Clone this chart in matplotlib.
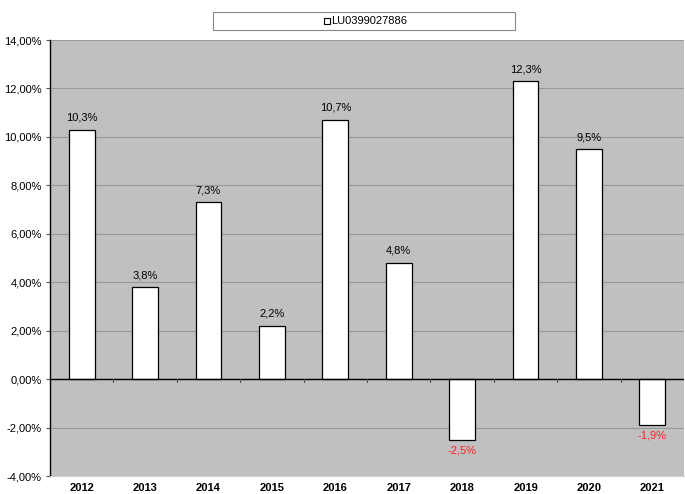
import matplotlib
matplotlib.use("Agg")
import matplotlib.pyplot as plt
from matplotlib.patches import Rectangle
from matplotlib.ticker import FuncFormatter, MultipleLocator

plt.rcParams['font.family'] = ['Liberation Sans', 'DejaVu Sans']

years = ["2012", "2013", "2014", "2015", "2016", "2017", "2018", "2019", "2020", "2021"]
values = [10.3, 3.8, 7.3, 2.2, 10.7, 4.8, -2.5, 12.3, 9.5, -1.9]
series_name = "LU0399027886"

fig = plt.figure(figsize=(6.85, 4.94), dpi=100)
ax = fig.add_axes([50/685, 18/494, 634/685, 436/494])
ax.set_facecolor("#C0C0C0")

x = list(range(len(years)))
ax.bar(x, values, width=0.41, color="white", edgecolor="black", linewidth=0.9, zorder=3)

ax.set_ylim(-4, 14)
ax.set_xlim(-0.5, len(years) - 0.5)
ax.yaxis.set_major_locator(MultipleLocator(2))
ax.yaxis.set_major_formatter(FuncFormatter(lambda v, p: f"{v:.2f}%".replace(".", ",")))
ax.grid(axis="y", color="#9A9A9A", linewidth=0.8, zorder=1)
ax.axhline(0, color="black", linewidth=1.0, zorder=4)

# category boundary ticks at zero line
for b in range(1, len(years)):
    ax.plot([b - 0.5, b - 0.5], [0, -0.12], color="#555555", linewidth=0.8, zorder=4)

for spine in ["top", "right"]:
    ax.spines[spine].set_visible(False)
ax.spines["bottom"].set_color("#D0D0D0")
ax.spines["left"].set_color("black")
ax.spines["left"].set_linewidth(1.0)

ax.set_xticks(x)
ax.set_xticklabels(years, fontsize=8, fontweight="bold")
ax.tick_params(axis="x", length=0, pad=5)
ax.tick_params(axis="y", labelsize=8, length=3, width=0.8, color="#555555", pad=3)

for xi, v in zip(x, values):
    lbl = f"{v:.1f}%".replace(".", ",")
    if v >= 0:
        ax.annotate(lbl, (xi, v), xytext=(0, 5), textcoords="offset points",
                    ha="center", va="bottom", fontsize=8, color="black")
    else:
        ax.annotate(lbl, (xi, v), xytext=(0, -4), textcoords="offset points",
                    ha="center", va="top", fontsize=8, color="#FF2020")

# legend box
fig.patches.append(Rectangle((213/685, 1 - 30/494), 302/685, 18/494, transform=fig.transFigure,
                             facecolor="white", edgecolor="#888888", linewidth=0.8))
fig.patches.append(Rectangle((324/685, 1 - 24.5/494), 6/685, 6/494, transform=fig.transFigure,
                             facecolor="white", edgecolor="black", linewidth=0.8))
fig.text(331/685, 1 - 21/494, series_name, fontsize=8, ha="left", va="center")

fig.savefig("out.png", dpi=100)
